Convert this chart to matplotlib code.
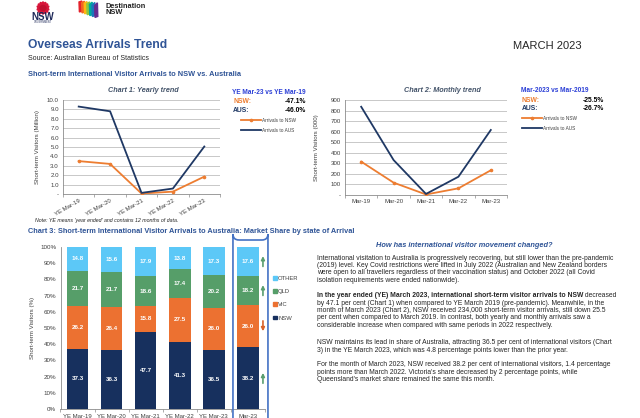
import matplotlib
matplotlib.use('Agg')
from matplotlib import pyplot as plt
from matplotlib.patches import FancyBboxPatch, Patch, Ellipse, Polygon
from matplotlib.ticker import FuncFormatter, MultipleLocator
import numpy as np

plt.rcParams['font.family'] = ['Liberation Sans', 'DejaVu Sans']

W, H = 640, 418

# ---- data ----
years = ['YE Mar-19', 'YE Mar-20', 'YE Mar-21', 'YE Mar-22', 'YE Mar-23']
yearly_nsw = [3.5, 3.2, 0.05, 0.25, 1.85]      # million
yearly_aus = [9.3, 8.8, 0.12, 0.58, 5.05]

months = ['Mar-19', 'Mar-20', 'Mar-21', 'Mar-22', 'Mar-23']
monthly_nsw = [316, 117, 5, 63, 234]           # thousand
monthly_aus = [836, 331, 10, 173, 616]

share_labels = years + ['Mar-23']
share_nsw = [37.3, 36.3, 47.7, 41.3, 36.5, 38.2]
share_vic = [26.2, 26.4, 15.8, 27.5, 26.0, 26.0]
share_qld = [21.7, 21.7, 18.6, 17.4, 20.2, 18.2]
share_other = [14.8, 15.6, 17.9, 13.8, 17.3, 17.6]
share_trend = ['up', 'down', 'up', 'up']       # Mar-23 arrows: NSW, VIC, QLD, OTHER

yearly_change = ('YE Mar-23 vs YE Mar-19', '-47.1%', '-46.0%')
monthly_change = ('Mar-2023 vs Mar-2019', '-25.5%', '-26.7%')

ORANGE = '#ED7D31'
NAVY = '#1F3864'
BLUE_T = '#2F5496'
BLUE_C = '#2B3FD6'
GREY_T = '#44546A'
TXT = '#262626'

fig = plt.figure(figsize=(W / 100, H / 100), dpi=100)
fig.patch.set_facecolor('white')


def px_axes(l, t, r, b):
    return fig.add_axes([l / W, 1 - b / H, (r - l) / W, (b - t) / H])


def ftext(x, y, s, **kw):
    kw.setdefault('va', 'center')
    return fig.text(x / W, 1 - y / H, s, **kw)


# ---- logos (rough) ----
lg = px_axes(28, 0, 58, 25)
lg.set_xlim(0, 30)
lg.set_ylim(25, 0)
lg.axis('off')
for ang in np.linspace(-75, 75, 7):
    lg.add_patch(Ellipse((15, 8), 3.2, 12, angle=ang, color='#D7153A'))
lg.add_patch(Ellipse((15, 8), 6, 5, color='#C00F2F'))
ftext(43, 16.5, 'NSW', fontsize=7, fontweight='bold', color='#1F2A5A', ha='center')
ftext(43, 22, 'GOVERNMENT', fontsize=1.8, color='#1F2A5A', ha='center')

dl = px_axes(78, 0, 102, 20)
dl.set_xlim(0, 24)
dl.set_ylim(20, 0)
dl.axis('off')
rainbow = ['#E4202A', '#F26522', '#FDB913', '#8DC63F', '#00A99D', '#1C75BC', '#662D91']
for i, c in enumerate(rainbow):
    x0 = 1 + i * 2.6
    dl.add_patch(Polygon([(x0, 2 + i * 0.6), (x0 + 2.8, 1 + i * 0.3),
                          (x0 + 3.2, 11 + i * 0.9), (x0 + 0.4, 12 + i * 0.9)], color=c))
ftext(105, 7, 'Destination', fontsize=5.3, fontweight='bold', color='#222222')
ftext(105, 13, 'NSW', fontsize=5.3, fontweight='bold', color='#222222')

# ---- headings ----
ftext(28, 45.5, 'Overseas Arrivals Trend', fontsize=8.7, fontweight='bold', color=BLUE_T)
ftext(28, 58, 'Source: Australian Bureau of Statistics', fontsize=5.0, color=TXT)
ftext(513, 46, 'MARCH 2023', fontsize=8, color=TXT)
ftext(28, 75, 'Short-term International Visitor Arrivals to NSW vs. Australia',
      fontsize=5.35, fontweight='bold', color=BLUE_T)


def line_chart(ax, labels, nsw, aus, ymax, step, fmt, rot):
    x = np.arange(len(labels))
    l_nsw, = ax.plot(x, nsw, color=ORANGE, lw=1.3, marker='o', ms=1.6, zorder=3)
    l_aus, = ax.plot(x, aus, color=NAVY, lw=1.3, zorder=3)
    ax.set_xlim(-0.5, len(labels) - 0.5)
    ax.set_ylim(0, ymax)
    ax.yaxis.set_major_locator(MultipleLocator(step))
    ax.yaxis.set_major_formatter(FuncFormatter(lambda v, p: '-' if v == 0 else fmt.format(v)))
    ax.grid(axis='y', color='#bfbfbf', lw=0.6)
    ax.set_axisbelow(True)
    for s in ['top', 'right']:
        ax.spines[s].set_visible(False)
    for s in ['left', 'bottom']:
        ax.spines[s].set_color('#8c8c8c')
        ax.spines[s].set_linewidth(0.6)
    ax.set_xticks(x)
    ax.set_xticks(np.arange(-0.5, len(labels)), minor=True)
    ax.tick_params(axis='x', which='major', length=0, pad=3)
    ax.tick_params(axis='x', which='minor', length=2, width=0.5, color='#8c8c8c')
    ax.tick_params(axis='y', length=0, pad=3, labelsize=4.4, labelcolor='#404040')
    if rot:
        ax.set_xticklabels(labels, rotation=30, ha='right', rotation_mode='anchor',
                           fontsize=4.3, color='#404040')
    else:
        ax.set_xticklabels(labels, fontsize=4.3, color='#404040')
    return l_nsw, l_aus


def change_box(x0, x1, y0, head, nsw_v, aus_v, leg_x, leg_y, handles):
    ftext(x0, y0, head, fontsize=4.7, fontweight='bold', color=BLUE_C)
    ftext(x0 + 1, y0 + 9.5, 'NSW:', fontsize=4.9, fontweight='bold', color=ORANGE)
    ftext(x1, y0 + 9.5, nsw_v, fontsize=4.9, fontweight='bold', color='black', ha='right')
    ftext(x0 + 1, y0 + 18.5, 'AUS:', fontsize=4.9, fontweight='bold', color=NAVY)
    ftext(x1, y0 + 18.5, aus_v, fontsize=4.9, fontweight='bold', color='black', ha='right')
    fig.legend(handles=handles, labels=['Arrivals to NSW', 'Arrivals to AUS'],
               loc='upper left', bbox_to_anchor=(leg_x / W, 1 - leg_y / H),
               frameon=False, fontsize=3.4, handlelength=4.2, handletextpad=0.2,
               labelspacing=1.1, borderpad=0, borderaxespad=0, labelcolor='#404040')


# ---- chart 1 ----
ax1 = px_axes(63, 100, 220, 194)
h1 = line_chart(ax1, years, yearly_nsw, yearly_aus, 10, 1, '{:.1f}', True)
ax1.set_ylabel('Short-term Visitors (Million)', fontsize=4.4, color='#404040', labelpad=5)
ftext(143.5, 90.5, 'Chart 1: Yearly trend', fontsize=5.2, fontweight='bold', style='italic',
      color=GREY_T, ha='center')
change_box(232, 306, 92, *yearly_change, 241, 117.5, h1)
ftext(35, 220.5, "Note: YE means 'year ended' and contains 12 months of data.",
      fontsize=3.75, style='italic', color=TXT)

# ---- chart 2 ----
ax2 = px_axes(345, 100, 507, 195)
h2 = line_chart(ax2, months, monthly_nsw, monthly_aus, 900, 100, '{:.0f}', False)
ax2.set_ylabel('Short-term Visitors (000)', fontsize=4.4, color='#404040', labelpad=8)
ftext(442, 90, 'Chart 2: Monthly trend', fontsize=5.2, fontweight='bold', style='italic',
      color=GREY_T, ha='center')
change_box(521, 604, 90.5, *monthly_change, 522, 115.5, h2)

# ---- chart 3 ----
ftext(28, 231.5, 'Chart 3: Short-term International Visitor Arrivals to Australia: '
      'Market Share by state of Arrival', fontsize=5.35, fontweight='bold', color=BLUE_T)
ax3 = px_axes(60.5, 247, 265, 409)
x = np.arange(len(share_labels))
names = ['NSW', 'VIC', 'QLD', 'OTHER']
cols = ['#17305E', '#EC7131', '#569E69', '#5CC8F7']
bottom = np.zeros(len(x))
for vals, col, name in zip([share_nsw, share_vic, share_qld, share_other], cols, names):
    ax3.bar(x, vals, 0.63, bottom=bottom, color=col, label=name)
    for xi, b, v in zip(x, bottom, vals):
        ax3.text(xi, b + v / 2, f'{v:.1f}', ha='center', va='center', color='white',
                 fontsize=4.5, fontweight='bold')
    bottom += np.array(vals)
ax3.set_xlim(-0.5, len(x) - 0.5)
ax3.set_ylim(0, 100)
ax3.yaxis.set_major_locator(MultipleLocator(10))
ax3.yaxis.set_major_formatter(FuncFormatter(lambda v, p: f'{v:.0f}%'))
ax3.tick_params(axis='y', length=0, pad=3, labelsize=4.5, labelcolor='#404040')
ax3.set_xticks(x)
ax3.set_xticklabels(share_labels, fontsize=4.3, color='#404040')
ax3.set_xticks(np.arange(-0.5, len(x)), minor=True)
ax3.tick_params(axis='x', which='major', length=0, pad=3.5)
ax3.tick_params(axis='x', which='minor', length=2, width=0.5, color='#8c8c8c')
for s in ['top', 'right']:
    ax3.spines[s].set_visible(False)
for s in ['left', 'bottom']:
    ax3.spines[s].set_color('#8c8c8c')
    ax3.spines[s].set_linewidth(0.6)
ax3.set_ylabel('Short-term Visitors (%)', fontsize=4.4, color='#404040', labelpad=4)

# trend arrows beside the latest bar
last = [v[-1] for v in (share_nsw, share_vic, share_qld, share_other)]
base = 0
for v, t in zip(last, share_trend):
    mid = base + v / 2
    d = 3.2 if t == 'up' else -3.2
    ax3.annotate('', xy=(5.44, mid + d), xytext=(5.44, mid - d),
                 arrowprops=dict(arrowstyle='-|>', color='#5A9E6F' if t == 'up' else '#D9622B',
                                 lw=1.2, mutation_scale=5, shrinkA=0, shrinkB=0),
                 annotation_clip=False)
    base += v

# highlight box round the latest bar
cx, top = ax3.transData.transform((5, 100))
hl = FancyBboxPatch((cx - 15, top + 7), 35, -(top + 7) - 20,
                    boxstyle='round,pad=0,rounding_size=6', transform=None,
                    fill=False, ec='#4472C4', lw=1.2, clip_on=False)
fig.add_artist(hl)

handles = [Patch(color=c) for c in cols[::-1]]
ax3.legend(handles=handles, labels=names[::-1], loc='upper left',
           bbox_to_anchor=(273 / W, 1 - 276 / H), bbox_transform=fig.transFigure,
           frameon=False, fontsize=4.2, handlelength=0.6, handleheight=0.6,
           handletextpad=0.3, labelspacing=1.4, borderpad=0, borderaxespad=0,
           labelcolor='#404040')

# ---- commentary ----
ftext(464, 245.5, 'How has international visitor movement changed?', fontsize=5.3,
      fontweight='bold', style='italic', color=BLUE_T, ha='center')
BODY = 4.85
LX = 317
p1 = ['International visitation to Australia is progressively recovering, but still lower than the pre-pandemic',
      '(2019) level. Key Covid restrictions were lifted in July 2022 (Australian and New Zealand borders',
      'were open to all travellers regardless of their vaccination status) and October 2022 (all Covid',
      'isolation requirements were ended nationwide).']
for i, s in enumerate(p1):
    ftext(LX, 258.3 + i * 7.3, s, fontsize=BODY, color=TXT)

bold = ftext(LX, 295.7, 'In the year ended (YE) March 2023, international short-term visitor arrivals to NSW',
             fontsize=BODY, fontweight='bold', color=TXT)
ax3.annotate(' decreased', xy=(1, 0.5), xycoords=bold, va='center', ha='left',
             fontsize=BODY, color=TXT, annotation_clip=False)
p2 = ['by 47.1 per cent (Chart 1) when compared to YE March 2019 (pre-pandemic). Meanwhile, in the',
      'month of March 2023 (Chart 2), NSW received 234,000 short-term visitor arrivals, still down 25.5',
      'per cent when compared to March 2019. In contrast, both yearly and monthly arrivals saw a',
      'considerable increase when compared with same periods in 2022 respectively.']
for i, s in enumerate(p2):
    ftext(LX, 303.1 + i * 7.35, s, fontsize=BODY, color=TXT)

p3 = ['NSW maintains its lead in share of Australia, attracting 36.5 per cent of international visitors (Chart',
      '3) in the YE March 2023, which was 4.8 percentage points lower than the prior year.']
for i, s in enumerate(p3):
    ftext(LX, 342.7 + i * 7.3, s, fontsize=BODY, color=TXT)

p4 = ['For the month of March 2023, NSW received 38.2 per cent of international visitors, 1.4 percentage',
      "points more than March 2022. Victoria's share decreased by 2 percentage points, while",
      "Queensland's market share remained the same this month."]
for i, s in enumerate(p4):
    ftext(LX, 365 + i * 7.4, s, fontsize=BODY, color=TXT)

fig.savefig('out.png', dpi=100, facecolor='white')
